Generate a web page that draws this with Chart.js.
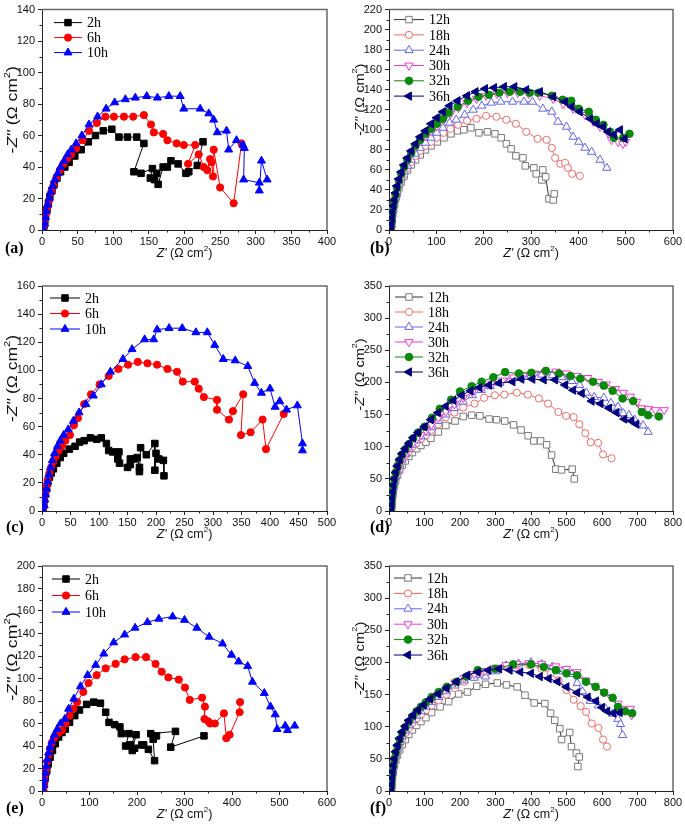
<!DOCTYPE html>
<html>
<head>
<meta charset="utf-8">
<script src="https://cdn.jsdelivr.net/npm/chart.js@4.4.1/dist/chart.umd.min.js"></script>
<style>
  html, body { margin: 0; padding: 0; background: #fff; }
  #fig { position: relative; width: 685px; height: 824px; overflow: hidden; background: #fff; }
  #fig canvas { position: absolute; }
  .lab { position: absolute; font: bold 16px "Liberation Serif", "Times New Roman", serif; color: #000; line-height: 18px; }
</style>
</head>
<body>
<div id="fig">
  <canvas id="ca" width="340" height="268" style="left:0;top:0"></canvas>
  <canvas id="cb" width="345" height="268" style="left:340px;top:0"></canvas>
  <canvas id="cc" width="340" height="280" style="left:0;top:270px"></canvas>
  <canvas id="cd" width="345" height="280" style="left:340px;top:270px"></canvas>
  <canvas id="ce" width="340" height="274" style="left:0;top:550px"></canvas>
  <canvas id="cf" width="345" height="274" style="left:340px;top:550px"></canvas>
  <div class="lab" style="left:5px;top:239px">(a)</div>
  <div class="lab" style="left:370px;top:239px">(b)</div>
  <div class="lab" style="left:6px;top:518px">(c)</div>
  <div class="lab" style="left:370px;top:518px">(d)</div>
  <div class="lab" style="left:6px;top:799px">(e)</div>
  <div class="lab" style="left:370px;top:799px">(f)</div>
</div>
<script>
// ---- data: [Z', -Z''] pairs ----
var a2h = [[2,0],[3,3],[4,6],[5,9],[7,13],[9,17],[11,21],[14,25],[17,29],[21,33],[26,37],[32,40],[38,43],[46,47],[55,51],[65,56],[75,60],[86,63],[98,64],[108,59],[120,59],[133,59],[143,55],[129,37],[139,36],[155,39],[152,33],[158,32],[161,36],[163,29],[170,40],[176,40],[181,44],[191,42],[202,36],[206,37],[218,41],[226,56]];
var a6h = [[2,0],[3,3],[4,7],[6,11],[8,15],[10,19],[13,24],[16,28],[20,33],[25,38],[30,42],[35,45],[41,48],[48,52],[57,57],[66,63],[77,68],[89,72],[101,72],[115,72],[128,72],[143,73],[153,67],[157,62],[170,61],[176,57],[189,55],[199,54],[215,54],[205,42],[220,48],[227,40],[232,38],[236,45],[238,43],[240,34],[241,51],[250,27],[269,17],[280,55]];
var a10h = [[3,0],[4,4],[5,8],[6,12],[8,16],[10,20],[12,24],[15,28],[18,32],[22,36],[26,40],[31,44],[36,48],[41,51],[48,55],[56,60],[66,67],[78,72],[90,77],[102,81],[117,83],[131,84],[147,85],[162,84],[178,85],[194,85],[199,77],[222,77],[234,74],[241,70],[246,62],[259,63],[262,51],[273,57],[282,54],[284,52],[283,32],[305,30],[305,25],[308,44],[316,32]];

var b12h = [[4,0],[5,5],[6,10],[7,15],[9,20],[11,25],[14,31],[17,36],[21,42],[26,48],[32,54],[39,60],[47,65],[56,70],[66,75],[77,80],[89,84],[102,88],[116,92],[131,96],[145,99],[158,100],[173,102],[190,97],[208,98],[224,96],[237,92],[248,86],[258,81],[268,74],[283,72],[288,64],[306,62],[311,56],[323,50],[325,60],[331,53],[338,31],[347,30],[349,36]];
var b18h = [[4,0],[5,5],[6,10],[7,15],[9,20],[11,26],[14,32],[17,38],[21,44],[26,50],[32,56],[39,62],[47,68],[56,74],[66,79],[77,84],[89,88],[101,92],[115,97],[130,101],[146,105],[165,109],[185,111],[205,114],[227,113],[248,110],[268,106],[290,98],[314,91],[333,90],[344,82],[351,72],[362,66],[372,67],[378,62],[387,56],[403,54]];
var b24h = [[4,0],[5,5],[6,10],[7,16],[9,21],[11,27],[14,33],[17,39],[21,46],[26,52],[32,58],[39,64],[47,70],[56,76],[66,82],[77,87],[89,92],[101,97],[114,102],[128,107],[142,110],[160,115],[178,120],[196,124],[216,127],[236,128],[261,128],[285,128],[303,128],[325,121],[344,118],[357,108],[375,103],[389,93],[401,88],[414,82],[428,78],[446,70],[460,62]];
var b30h = [[4,0],[5,5],[6,11],[7,16],[9,22],[11,28],[14,34],[17,41],[21,48],[26,55],[32,62],[39,69],[47,76],[56,83],[66,89],[77,94],[89,99],[101,104],[115,110],[130,116],[147,122],[165,127],[185,131],[205,134],[228,136],[250,137],[272,137],[295,136],[318,134],[347,131],[368,126],[389,121],[414,115],[432,108],[446,103],[463,97],[470,90],[484,88],[494,86],[500,88]];
var b32h = [[4,0],[5,6],[6,11],[7,17],[9,23],[11,29],[14,35],[17,42],[21,49],[26,56],[32,63],[39,70],[47,77],[56,84],[66,90],[77,96],[89,101],[101,106],[114,111],[126,117],[145,123],[167,129],[189,133],[211,135],[233,137],[255,138],[277,138],[297,137],[316,137],[344,134],[367,130],[385,129],[401,121],[422,118],[437,110],[453,105],[467,98],[475,92],[495,92],[508,96]];
var b36h = [[4,0],[5,6],[6,12],[7,18],[9,24],[11,30],[14,37],[17,44],[21,51],[26,58],[32,65],[39,72],[47,79],[56,86],[66,93],[77,99],[89,106],[101,112],[114,118],[128,124],[145,129],[165,134],[183,138],[203,141],[222,142],[243,143],[265,143],[290,140],[319,138],[347,133],[372,128],[386,123],[403,118],[425,111],[439,106],[452,103],[463,98],[475,95],[488,100],[498,91]];

var c2h = [[2,0],[3,4],[4,8],[6,12],[8,16],[10,20],[13,24],[16,27],[20,30],[26,34],[32,38],[38,41],[48,44],[58,46],[66,49],[74,50],[85,52],[96,51],[104,52],[113,48],[117,43],[124,42],[135,42],[133,37],[136,34],[150,31],[155,33],[155,37],[162,37],[167,38],[171,31],[171,28],[173,45],[183,40],[198,48],[198,29],[200,41],[205,37],[213,36],[214,25]];
var c6h = [[2,0],[3,4],[4,8],[6,13],[8,18],[10,22],[13,27],[16,31],[20,35],[24,39],[29,43],[35,46],[41,50],[49,54],[56,61],[63,66],[74,76],[86,83],[101,90],[117,96],[134,101],[151,104],[168,106],[185,105],[202,104],[220,101],[237,99],[247,92],[268,92],[275,87],[284,81],[307,79],[307,72],[328,65],[335,71],[353,83],[349,54],[366,56],[387,65],[393,44],[424,69]];
var c10h = [[3,0],[4,4],[5,8],[6,12],[8,16],[10,21],[12,26],[15,31],[18,36],[22,41],[27,46],[32,50],[38,54],[46,58],[55,64],[65,70],[77,76],[90,82],[104,90],[120,99],[142,108],[158,115],[180,122],[196,122],[202,129],[223,130],[246,130],[270,127],[290,127],[303,118],[318,108],[339,107],[361,103],[373,91],[385,84],[400,87],[409,74],[417,78],[429,72],[448,75],[457,48],[457,43]];

var d12h = [[6,0],[7,8],[8,16],[10,24],[12,32],[15,40],[19,48],[24,56],[30,64],[37,71],[46,78],[56,85],[66,91],[78,97],[90,102],[104,107],[118,113],[139,123],[160,133],[186,140],[209,147],[233,149],[256,148],[282,143],[303,142],[326,140],[351,134],[372,126],[392,117],[408,109],[427,109],[444,103],[458,87],[470,65],[486,64],[516,65],[522,50]];
var d18h = [[6,0],[7,8],[8,16],[10,25],[12,34],[15,43],[19,52],[24,61],[30,70],[37,78],[46,86],[56,93],[66,100],[78,106],[90,112],[104,118],[120,126],[139,135],[160,146],[184,153],[209,161],[241,167],[268,176],[298,180],[325,181],[360,184],[391,181],[422,175],[448,167],[477,154],[499,148],[520,146],[536,135],[553,121],[568,107],[589,106],[603,88],[627,82]];
var d24h = [[6,0],[7,9],[8,18],[10,27],[12,36],[15,45],[19,54],[24,63],[30,72],[37,80],[46,88],[56,96],[66,103],[78,110],[90,116],[104,122],[120,130],[139,140],[160,150],[184,160],[209,170],[235,180],[260,188],[285,194],[312,199],[340,204],[370,208],[400,211],[430,212],[460,211],[487,208],[515,202],[537,196],[556,184],[578,177],[605,176],[625,168],[645,162],[660,152],[676,149],[692,142],[716,133],[730,123]];
var d30h = [[6,0],[7,9],[8,18],[10,28],[12,37],[15,46],[19,55],[24,64],[30,73],[37,82],[46,90],[56,98],[66,105],[78,112],[90,118],[104,125],[120,134],[139,145],[160,155],[184,166],[209,176],[235,185],[262,192],[290,198],[320,203],[350,208],[380,212],[410,214],[440,216],[470,217],[500,214],[530,210],[560,207],[590,201],[612,197],[638,190],[660,184],[680,178],[698,170],[712,160],[730,159],[750,157],[775,157]];
var d32h = [[6,0],[7,10],[8,20],[10,30],[12,40],[15,50],[19,60],[24,70],[30,79],[37,88],[46,96],[56,104],[68,113],[82,122],[100,131],[121,145],[143,159],[175,173],[200,186],[233,194],[261,201],[294,208],[327,216],[366,214],[401,215],[442,218],[479,214],[511,210],[539,206],[575,201],[605,195],[630,187],[658,175],[688,171],[712,154],[730,149],[760,147]];
var d36h = [[6,0],[7,10],[8,20],[10,30],[12,40],[15,50],[19,60],[24,70],[30,80],[37,89],[46,97],[56,105],[68,114],[82,122],[100,131],[118,142],[138,153],[160,163],[182,172],[205,180],[230,187],[255,192],[282,196],[310,199],[348,201],[373,205],[404,205],[436,204],[468,204],[496,196],[519,188],[543,183],[571,171],[596,167],[620,160],[641,153],[663,143],[683,140],[697,135]];

var e2h = [[3,0],[5,6],[7,12],[10,18],[13,24],[17,30],[22,36],[28,42],[35,48],[42,52],[49,55],[58,61],[69,67],[79,72],[94,77],[109,79],[123,78],[134,70],[141,61],[153,59],[164,57],[167,51],[183,51],[176,40],[186,41],[198,50],[190,36],[195,38],[210,41],[214,41],[224,37],[237,27],[234,46],[241,49],[229,51],[281,53],[271,39],[341,49]];
var e6h = [[3,0],[4,5],[5,10],[7,15],[9,20],[11,26],[14,32],[17,38],[21,43],[25,47],[30,50],[36,52],[42,54],[50,60],[58,67],[66,73],[74,79],[87,88],[98,96],[115,103],[134,109],[155,113],[174,117],[197,119],[219,119],[239,113],[252,106],[266,101],[288,99],[301,92],[311,81],[337,83],[343,75],[342,64],[350,62],[354,60],[364,60],[383,69],[388,47],[395,50],[416,70],[417,79]];
var e10h = [[3,0],[4,5],[5,10],[7,16],[9,22],[11,28],[14,34],[17,39],[21,44],[26,50],[32,55],[39,60],[48,64],[56,73],[67,82],[81,93],[96,103],[113,112],[130,122],[151,132],[174,139],[196,145],[222,150],[246,153],[275,155],[300,152],[326,145],[352,137],[380,131],[399,121],[414,115],[433,111],[443,97],[468,87],[481,75],[491,68],[495,55],[512,58],[517,54],[532,58]];

var f12h = [[6,0],[7,8],[8,16],[10,24],[12,32],[15,40],[19,48],[24,56],[30,64],[37,72],[46,80],[56,88],[66,95],[78,102],[90,108],[104,114],[120,122],[144,131],[168,139],[196,151],[221,154],[247,163],[272,166],[305,168],[331,165],[361,162],[383,149],[409,137],[439,136],[455,121],[467,110],[481,97],[486,80],[509,91],[514,69],[528,59],[536,53],[532,38]];
var f18h = [[6,0],[7,9],[8,18],[10,27],[12,36],[15,45],[19,54],[24,63],[30,72],[37,81],[46,90],[56,98],[66,106],[78,113],[90,119],[104,126],[120,133],[140,141],[162,150],[186,160],[212,170],[240,178],[270,184],[300,189],[330,193],[360,195],[395,196],[430,190],[455,183],[478,172],[500,157],[520,142],[540,132],[555,123],[571,105],[590,98],[603,80],[614,69]];
var f24h = [[6,0],[7,9],[8,19],[10,28],[12,38],[15,47],[19,57],[24,66],[30,76],[37,85],[46,94],[56,102],[66,110],[78,117],[90,124],[104,131],[120,138],[140,146],[162,155],[186,164],[212,172],[240,176],[272,178],[300,186],[330,195],[365,198],[400,200],[430,197],[460,193],[490,186],[515,182],[530,168],[545,155],[567,140],[590,133],[610,128],[630,120],[645,112],[652,104],[658,87]];
var f30h = [[6,0],[7,9],[8,19],[10,29],[12,39],[15,48],[19,58],[24,68],[30,78],[37,87],[46,96],[56,105],[66,113],[78,121],[90,128],[104,135],[120,143],[140,151],[162,160],[186,169],[212,176],[240,182],[270,187],[300,192],[330,196],[360,198],[395,199],[430,198],[470,194],[500,190],[530,185],[555,172],[580,163],[605,154],[625,146],[645,136],[665,128],[680,128],[683,118]];
var f32h = [[6,0],[7,10],[8,20],[10,30],[12,40],[15,50],[19,60],[24,70],[30,80],[37,90],[46,99],[56,108],[66,116],[78,124],[90,131],[104,138],[120,146],[140,154],[163,162],[190,170],[218,178],[250,188],[300,190],[350,197],[400,197],[436,193],[470,188],[500,183],[530,180],[555,170],[582,162],[606,153],[630,145],[645,131],[665,124],[685,121]];
var f36h = [[6,0],[7,10],[8,20],[10,30],[12,40],[15,50],[19,61],[24,71],[30,82],[37,92],[46,101],[56,110],[68,118],[82,126],[98,134],[116,143],[138,151],[162,160],[190,170],[220,180],[250,185],[280,188],[310,190],[340,188],[370,185],[400,183],[425,178],[450,175],[475,170],[500,162],[530,153],[560,146],[583,140],[600,130],[615,124],[632,121],[650,122]];

// axis ranges [min, max, major step]
var aX = [0, 400, 50],  aY = [0, 140, 20];
var bX = [0, 600, 100], bY = [0, 220, 20];
var cX = [0, 500, 50],  cY = [0, 160, 20];
var dX = [0, 800, 100], dY = [0, 350, 50];
var eX = [0, 600, 100], eY = [0, 200, 20];
var fX = [0, 800, 100], fY = [0, 350, 50];

var shortLabels = ["2h", "6h", "10h"];
var longLabels = ["12h", "18h", "24h", "30h", "32h", "36h"];

// marker / colour styles
var shortStyles = [
  { line: "#000000", color: "#000000", fill: "#000000", shape: "rect", r: 4.6 },
  { line: "#ff0000", color: "#ff0000", fill: "#ff0000", shape: "circle", r: 3.6 },
  { line: "#0000ff", color: "#0000ff", fill: "#0000ff", shape: "triangle", r: 4.6 }
];
var longStyles = [
  { line: "#333333", color: "#7a7a7a", fill: "#ffffff", shape: "rect", r: 4.6 },
  { line: "#f06a6a", color: "#f06a6a", fill: "#ffffff", shape: "circle", r: 3.6 },
  { line: "#6464ee", color: "#6464ee", fill: "#ffffff", shape: "triangle", r: 4.8 },
  { line: "#f03cd0", color: "#f03cd0", fill: "#ffffff", shape: "triangle", r: 4.8, rot: 180 },
  { line: "#0a8a0a", color: "#0a8a0a", fill: "#0a8a0a", shape: "circle", r: 3.8 },
  { line: "#00007f", color: "#00007f", fill: "#00007f", shape: "triangle", r: 4.8, rot: 270 }
];

var FONT = '"Liberation Sans", Arial, sans-serif';

function drawRich(ctx, parts, size, cx, cy) {
  function f(k) {
    if (k === "i") return "italic " + size + "px " + FONT;
    if (k === "s") return Math.round(size * 0.65) + "px " + FONT;
    return size + "px " + FONT;
  }
  var w = 0, ws = [];
  parts.forEach(function (p) { ctx.font = f(p[1]); var m = ctx.measureText(p[0]).width; ws.push(m); w += m; });
  var x = cx - w / 2;
  ctx.textBaseline = "middle";
  ctx.textAlign = "left";
  ctx.fillStyle = "#111";
  parts.forEach(function (p, i) {
    ctx.font = f(p[1]);
    ctx.fillText(p[0], x, p[1] === "s" ? cy - size * 0.38 : cy);
    x += ws[i];
  });
}

// frame, minor ticks, axis titles, inset legend
var figPlugin = {
  id: "fig",
  afterDatasetsDraw: function (chart) {
    var ctx = chart.ctx, ca = chart.chartArea, o = chart.options.plugins.fig;
    var xs = chart.scales.x, ys = chart.scales.y;
    ctx.save();
    // top and right frame
    ctx.strokeStyle = "#6a6a6a";
    ctx.lineWidth = 1.5;
    ctx.beginPath();
    ctx.moveTo(ca.left, ca.top);
    ctx.lineTo(ca.right, ca.top);
    ctx.lineTo(ca.right, ca.bottom);
    ctx.stroke();
    // minor ticks
    ctx.strokeStyle = "#222";
    ctx.lineWidth = 1;
    ctx.beginPath();
    var v, p;
    for (v = o.x[0] + o.x[2] / 2; v < o.x[1]; v += o.x[2]) {
      p = Math.round(xs.getPixelForValue(v)) + 0.5;
      ctx.moveTo(p, ca.bottom);
      ctx.lineTo(p, ca.bottom + 2.5);
    }
    for (v = o.y[0] + o.y[2] / 2; v < o.y[1]; v += o.y[2]) {
      p = Math.round(ys.getPixelForValue(v)) + 0.5;
      ctx.moveTo(ca.left, p);
      ctx.lineTo(ca.left - 2.5, p);
    }
    ctx.stroke();
    // axis titles
    drawRich(ctx, [["Z'", "i"], [" (\u03A9 cm", "n"], ["2", "s"], [")", "n"]], 12.5,
      (ca.left + ca.right) / 2, ca.bottom + 24);
    var yt = o.yt;
    ctx.save();
    ctx.translate(ca.left - 29, (ca.top + ca.bottom) / 2 + yt.shift);
    ctx.rotate(-Math.PI / 2);
    ctx.scale(yt.stretch, 1);
    drawRich(ctx, [["-", "n"], ["Z''", "i"], [" (\u03A9 cm", "n"], ["2", "s"], [")", "n"]], yt.size, 0, 0);
    ctx.restore();
    // legend
    var lg = o.legend;
    chart.data.datasets.forEach(function (ds, i) {
      var y = ca.top + lg.y + i * lg.dy;
      var x0 = ca.left + lg.x;
      ctx.strokeStyle = ds.borderColor;
      ctx.lineWidth = 1;
      ctx.beginPath();
      ctx.moveTo(x0, y);
      ctx.lineTo(x0 + lg.len, y);
      ctx.stroke();
      ctx.fillStyle = ds.pointBackgroundColor;
      ctx.strokeStyle = ds.pointBorderColor;
      Chart.helpers.drawPoint(ctx, {
        pointStyle: ds.pointStyle, rotation: ds.pointRotation,
        radius: ds.pointRadius, borderWidth: 1
      }, x0 + lg.len / 2, y);
      ctx.fillStyle = "#000";
      ctx.font = '14px "Liberation Serif", "Times New Roman", serif';
      ctx.textAlign = "left";
      ctx.textBaseline = "middle";
      ctx.fillText(ds.label, x0 + lg.len + 5, y + 1);
    });
    ctx.restore();
  }
};

function makeSets(labels, styles, series) {
  return series.map(function (pts, i) {
    var st = styles[i];
    return {
      label: labels[i],
      data: pts.map(function (q) { return { x: q[0], y: q[1] }; }),
      showLine: true,
      borderColor: st.line,
      borderWidth: 1,
      pointStyle: st.shape,
      pointRotation: st.rot || 0,
      pointRadius: st.r,
      pointHoverRadius: st.r,
      pointBorderColor: st.color,
      pointBackgroundColor: st.fill,
      pointBorderWidth: 1,
      order: -i
    };
  });
}

function axis(r, fit, isX) {
  var s = {
    type: "linear",
    min: r[0], max: r[1],
    ticks: {
      stepSize: r[2], autoSkip: false, maxRotation: 0,
      color: "#111", padding: isX ? 1 : 3,
      font: { family: FONT, size: 11 }
    },
    grid: { display: true, drawOnChartArea: false, drawTicks: true, tickLength: 4, color: "#222", lineWidth: 1 },
    border: { display: true, color: "#222", width: 1 }
  };
  s.afterFit = isX ? function (sc) { sc.height = fit; } : function (sc) { sc.width = fit; };
  return s;
}

function panel(id, sets, xr, yr, lay, legend, yt) {
  new Chart(document.getElementById(id), {
    type: "scatter",
    data: { datasets: sets },
    options: {
      responsive: false,
      animation: false,
      events: [],
      layout: { padding: { top: lay.top, right: lay.right, left: 0, bottom: 0 } },
      scales: { x: axis(xr, lay.xh, true), y: axis(yr, lay.yw, false) },
      plugins: {
        legend: { display: false },
        tooltip: { enabled: false },
        fig: { x: xr, y: yr, legend: legend, yt: yt }
      }
    },
    plugins: [figPlugin]
  });
}

panel("ca", makeSets(shortLabels, shortStyles, [a2h, a6h, a10h]), aX, aY,
  { top: 7, right: 13, xh: 38, yw: 42 }, { x: 12, len: 28, y: 13, dy: 15 },
  { size: 14, stretch: 1.25, shift: -10 });
panel("cb", makeSets(longLabels, longStyles, [b12h, b18h, b24h, b30h, b32h, b36h]), bX, bY,
  { top: 6, right: 12, xh: 38, yw: 49 }, { x: 5, len: 30, y: 10, dy: 15.3 },
  { size: 13, stretch: 1.12, shift: -20 });
panel("cc", makeSets(shortLabels, shortStyles, [c2h, c6h, c10h]), cX, cY,
  { top: 16, right: 13, xh: 39, yw: 42 }, { x: 8, len: 30, y: 12, dy: 15.5 },
  { size: 14, stretch: 1.25, shift: -20 });
panel("cd", makeSets(longLabels, longStyles, [d12h, d18h, d24h, d30h, d32h, d36h]), dX, dY,
  { top: 16, right: 12, xh: 39, yw: 49 }, { x: 6, len: 28, y: 11, dy: 15 },
  { size: 13, stretch: 1.12, shift: -24 });
panel("ce", makeSets(shortLabels, shortStyles, [e2h, e6h, e10h]), eX, eY,
  { top: 16, right: 13, xh: 33, yw: 42 }, { x: 10, len: 28, y: 13, dy: 16.5 },
  { size: 14, stretch: 1.27, shift: -22 });
panel("cf", makeSets(longLabels, longStyles, [f12h, f18h, f24h, f30h, f32h, f36h]), fX, fY,
  { top: 16, right: 12, xh: 33, yw: 49 }, { x: 5, len: 28, y: 12, dy: 15.4 },
  { size: 13, stretch: 1.14, shift: -20 });
</script>
</body>
</html>
